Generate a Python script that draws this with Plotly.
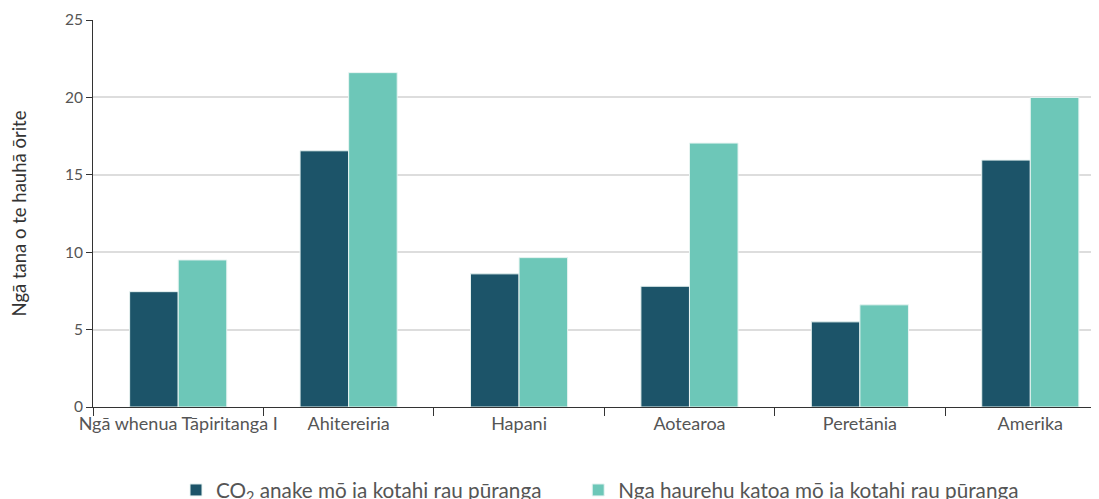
import plotly.graph_objects as go

# Countries / groups
categories = ["Ngā whenua Tāpiritanga I", "Ahitereiria", "Hapani", "Aotearoa", "Peretānia", "Amerika"]
# tonnes CO2-equivalent per person
co2_only = [7.45, 16.55, 8.6, 7.8, 5.5, 15.95]
all_gases = [9.5, 21.6, 9.65, 17.05, 6.6, 20.0]

fig = go.Figure()
fig.add_trace(go.Bar(
    x=categories, y=co2_only,
    name="CO<sub>2</sub> anake mō ia kotahi rau pūranga" + "\u00a0" * 6,
    marker=dict(color="#1c5469", line=dict(color="#e8f4f2", width=1)),
))
fig.add_trace(go.Bar(
    x=categories, y=all_gases,
    name="Nga haurehu katoa mō ia kotahi rau pūranga",
    marker=dict(color="#6dc7b8", line=dict(color="#e8f4f2", width=1)),
))

fig.update_layout(
    width=1099, height=499,
    margin=dict(l=85, r=0, t=12, b=100, autoexpand=False),
    paper_bgcolor="white", plot_bgcolor="white",
    font=dict(family="Lato, 'Open Sans', sans-serif", color="#555555", size=15),
    barmode="group",
    bargap=0.43, bargroupgap=0,
    showlegend=True,
    legend=dict(
        orientation="h", x=0.5, xanchor="center", y=-0.2145, yanchor="middle",
        font=dict(size=20.7, color="#555555"),
        itemwidth=30, tracegroupgap=0,
    ),
)
fig.update_xaxes(
    range=[-0.5, 5.45],
    showline=True, linecolor="#333333", linewidth=1,
    ticks="outside", tickson="boundaries", ticklen=8, tickcolor="#333333",
    tickfont=dict(size=18), tickangle=0,
    showgrid=False, automargin=False,
)
fig.update_yaxes(
    range=[0, 25], dtick=5,
    showline=True, linecolor="#333333", linewidth=1,
    ticks="outside", ticklen=6, tickcolor="#333333",
    tickfont=dict(size=15.5),
    showgrid=True, gridcolor="#dddddd", gridwidth=1.5,
    zeroline=False, automargin=False,
    title=dict(text="Ngā tana o te hauhā ōrite", font=dict(size=18.5, color="#333333"), standoff=35),
)

fig.write_html("out.html")
